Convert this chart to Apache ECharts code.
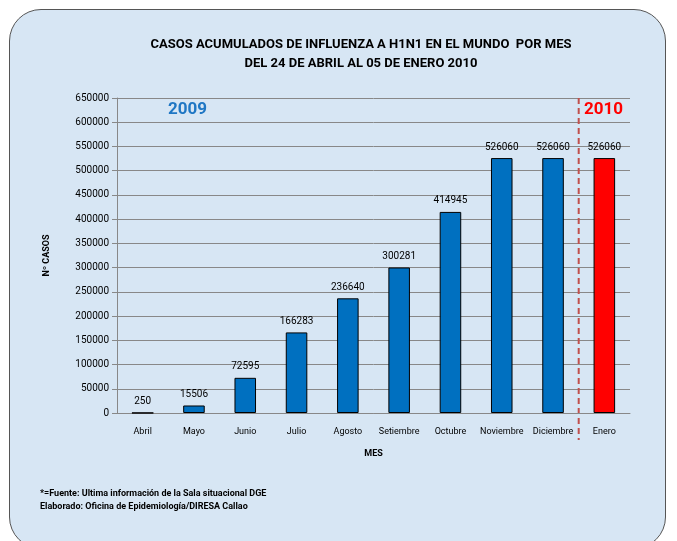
<!DOCTYPE html>
<html>
<head>
<meta charset="utf-8">
<script src="https://cdn.jsdelivr.net/npm/echarts@6/dist/echarts.min.js"></script>
<style>
  html, body { margin: 0; padding: 0; background: #fff; }
  .frame {
    position: absolute;
    left: 9px; top: 9px;
    width: 657px; height: 540px;
    border: 1.5px solid #555;
    border-radius: 32px;
    background: #d7e6f4;
    box-sizing: border-box;
  }
  #chart { position: absolute; left: 0; top: 0; width: 677px; height: 541px; }
</style>
</head>
<body>
<div class="frame"></div>
<div id="chart"></div>
<script>
const months = ['Abril', 'Mayo', 'Junio', 'Julio', 'Agosto', 'Setiembre', 'Octubre', 'Noviembre', 'Diciembre', 'Enero']
const casos = [250, 15506, 72595, 166283, 236640, 300281, 414945, 526060, 526060, 526060]
const barColors = ['#0070c0', '#0070c0', '#0070c0', '#0070c0', '#0070c0', '#0070c0', '#0070c0', '#0070c0', '#0070c0', '#ff0000']

const font = "'Liberation Sans Narrow', 'Roboto', sans-serif"

const chart = echarts.init(document.getElementById('chart'))

const option = {
  backgroundColor: 'transparent',
  textStyle: { fontFamily: font },
  animation: false,
  title: {
    text: 'CASOS ACUMULADOS DE INFLUENZA A H1N1 EN EL MUNDO  POR MES\nDEL 24 DE ABRIL AL 05 DE ENERO 2010',
    left: 356,
    textAlign: 'center',
    top: 30,
    textStyle: { fontFamily: font, fontSize: 13, fontWeight: 'bold', color: '#000', lineHeight: 19 }
  },
  grid: { left: 117, right: 47, top: 98, bottom: 128 },
  xAxis: {
    type: 'category',
    data: months,
    name: 'MES',
    nameLocation: 'middle',
    nameGap: 36,
    nameTextStyle: { fontFamily: font, fontSize: 9, fontWeight: 'bold', color: '#000' },
    axisLine: { lineStyle: { color: '#888' } },
    axisTick: { show: false },
    axisLabel: { interval: 0, fontSize: 9, color: '#000', margin: 14, fontFamily: font }
  },
  yAxis: {
    type: 'value',
    min: 0,
    max: 650000,
    interval: 50000,
    name: 'Nº CASOS',
    nameLocation: 'middle',
    nameRotate: 90,
    nameGap: 66,
    nameTextStyle: { fontFamily: font, fontSize: 9, fontWeight: 'bold', color: '#000' },
    axisLine: { show: true, lineStyle: { color: '#888' } },
    axisTick: { show: true, length: 5, lineStyle: { color: '#888' } },
    splitLine: { lineStyle: { color: '#888' } },
    axisLabel: { fontSize: 10, color: '#000', margin: 8, fontFamily: font, formatter: v => String(v) }
  },
  series: [{
    type: 'bar',
    barWidth: '42%',
    data: casos.map((v, i) => ({ value: v, itemStyle: { color: barColors[i] } })),
    itemStyle: { borderColor: '#000', borderWidth: 1 },
    label: { show: true, position: 'top', distance: 6, fontSize: 10, color: '#000', fontFamily: font }
  }]
}

chart.setOption(option)

// dashed separator between 2009 and 2010, plus the year labels
const xDic = chart.convertToPixel({ xAxisIndex: 0 }, 'Diciembre')
const xEne = chart.convertToPixel({ xAxisIndex: 0 }, 'Enero')
const xSep = (xDic + xEne) / 2
const yTop = chart.convertToPixel({ yAxisIndex: 0 }, 650000)

chart.setOption({
  graphic: [
    {
      type: 'line',
      shape: { x1: xSep, y1: yTop, x2: xSep, y2: 440 },
      style: { stroke: '#c0504d', lineWidth: 2, lineDash: [6, 4] }
    },
    {
      type: 'text', left: 168, top: 101,
      style: { text: '2009', fill: '#1f77c4', font: 'bold 17px ' + font }
    },
    {
      type: 'text', left: 584, top: 101,
      style: { text: '2010', fill: '#ff0000', font: 'bold 17px ' + font }
    },
    {
      type: 'text', left: 40, top: 487,
      style: {
        text: '*=Fuente: Ultima información de la Sala situacional DGE\nElaborado: Oficina de Epidemiología/DIRESA Callao',
        fill: '#000', font: 'bold 9px ' + font, lineHeight: 13
      }
    }
  ]
})
</script>
</body>
</html>
